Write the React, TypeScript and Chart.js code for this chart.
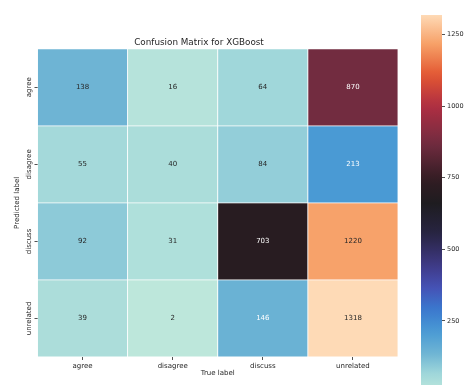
import React, { useEffect, useRef } from "react";
import { Chart, registerables } from "chart.js";

Chart.register(...registerables);

// Confusion matrix: rows are predicted labels, columns are true labels
const trueLabels = ["agree", "disagree", "discuss", "unrelated"];
const predictedLabels = ["agree", "disagree", "discuss", "unrelated"];
const rowAgree = [138, 16, 64, 870];
const rowDisagree = [55, 40, 84, 213];
const rowDiscuss = [92, 31, 703, 1220];
const rowUnrelated = [39, 2, 146, 1318];
const matrixRows = [rowAgree, rowDisagree, rowDiscuss, rowUnrelated];
const colorbarTicks = [250, 500, 750, 1000, 1250];
const chartTitle = "Confusion Matrix for XGBoost";
const xTitle = "True label";
const yTitle = "Predicted label";

const allValues = matrixRows.flat();
const vmin = Math.min(...allValues);
const vmax = Math.max(...allValues);

// "icefire"-style diverging colormap stops
const ICEFIRE: [number, [number, number, number]][] = [
  [0.0, [189, 231, 219]],
  [0.05, [158, 214, 218]],
  [0.1, [112, 182, 212]],
  [0.16, [74, 154, 212]],
  [0.22, [58, 120, 206]],
  [0.28, [70, 80, 180]],
  [0.34, [62, 56, 130]],
  [0.42, [40, 36, 66]],
  [0.5, [30, 28, 32]],
  [0.56, [48, 28, 34]],
  [0.66, [114, 44, 64]],
  [0.76, [176, 46, 66]],
  [0.84, [226, 86, 50]],
  [0.92, [246, 158, 100]],
  [1.0, [254, 218, 182]],
];

function cmapRGB(t: number): [number, number, number] {
  const c = Math.max(0, Math.min(1, t));
  for (let i = 1; i < ICEFIRE.length; i++) {
    const [t1, c1] = ICEFIRE[i];
    const [t0, c0] = ICEFIRE[i - 1];
    if (c <= t1) {
      const f = (c - t0) / (t1 - t0);
      return [0, 1, 2].map((k) => c0[k] + (c1[k] - c0[k]) * f) as [number, number, number];
    }
  }
  return ICEFIRE[ICEFIRE.length - 1][1];
}

function rgbString(rgb: [number, number, number]) {
  return `rgb(${rgb.map((v) => Math.round(v)).join(",")})`;
}

function colorFor(v: number) {
  return rgbString(cmapRGB((v - vmin) / (vmax - vmin)));
}

function textColorFor(v: number) {
  const rgb = cmapRGB((v - vmin) / (vmax - vmin));
  const lin = rgb.map((c) => {
    const s = c / 255;
    return s <= 0.03928 ? s / 12.92 : Math.pow((s + 0.055) / 1.055, 2.4);
  });
  const lum = 0.2126 * lin[0] + 0.7152 * lin[1] + 0.0722 * lin[2];
  return lum > 0.4 ? "#262626" : "#ffffff";
}

const TEXT = "#262626";
const FONT = '"DejaVu Sans", sans-serif';

// Writes each cell's count in the middle of its rectangle
const cellLabels = {
  id: "cellLabels",
  afterDatasetsDraw(chart: any) {
    const ctx = chart.ctx;
    ctx.save();
    ctx.font = `7px ${FONT}`;
    ctx.textAlign = "center";
    ctx.textBaseline = "middle";
    matrixRows.forEach((row, r) => {
      const meta = chart.getDatasetMeta(r);
      meta.data.forEach((bar: any, c: number) => {
        const v = row[c];
        const p = bar.getCenterPoint();
        ctx.fillStyle = textColorFor(v);
        ctx.fillText(String(v), p.x, p.y);
      });
    });
    ctx.restore();
  },
};

export default function App() {
  const heatRef = useRef<HTMLCanvasElement>(null);
  const barRef = useRef<HTMLCanvasElement>(null);

  useEffect(() => {
    Chart.defaults.font.family = FONT;
    Chart.defaults.color = TEXT;

    const tickGrid = {
      display: true,
      drawOnChartArea: false,
      drawTicks: true,
      tickLength: 3,
      offset: false,
      color: TEXT,
      lineWidth: 0.8,
    };

    const heat = new Chart(heatRef.current!, {
      type: "bar",
      data: {
        labels: trueLabels,
        datasets: matrixRows.map((row, r) => ({
          label: predictedLabels[r],
          data: row.map(() => [r, r + 1]),
          backgroundColor: row.map((v) => colorFor(v)),
          borderColor: "#ffffff",
          borderWidth: 0.75,
          borderSkipped: false,
          grouped: false,
          barPercentage: 1,
          categoryPercentage: 1,
        })),
      } as any,
      options: {
        responsive: false,
        animation: false,
        layout: { padding: { left: 0, right: 12, top: 0, bottom: 0 } },
        plugins: {
          legend: { display: false },
          tooltip: { enabled: false },
          title: {
            display: true,
            text: chartTitle,
            color: TEXT,
            font: { size: 8.8, weight: "normal" as any, family: FONT },
            padding: { top: 37.7, bottom: 0.5 },
          },
        },
        scales: {
          x: {
            type: "category",
            offset: true,
            grid: tickGrid as any,
            border: { display: false },
            ticks: { font: { size: 7 }, color: TEXT, padding: 2, maxRotation: 0, autoSkip: false },
            title: {
              display: true,
              text: xTitle,
              color: TEXT,
              font: { size: 7 },
              padding: { top: 0, bottom: 7.8 },
            },
            afterFit: (s: any) => {
              s.width;
              s.height = 28;
            },
          },
          y: {
            type: "linear",
            min: 0,
            max: predictedLabels.length,
            reverse: true,
            grid: tickGrid as any,
            border: { display: false },
            afterBuildTicks: (s: any) => {
              s.ticks = predictedLabels.map((_, i) => ({ value: i + 0.5 }));
            },
            ticks: {
              font: { size: 7 },
              color: TEXT,
              padding: -12,
              crossAlign: "center",
              minRotation: 90,
              maxRotation: 90,
              callback: (v: any) => predictedLabels[Math.floor(Number(v))],
            },
            title: {
              display: true,
              text: yTitle,
              color: TEXT,
              font: { size: 7 },
              padding: { top: 12.8, bottom: 0 },
            },
            afterFit: (s: any) => {
              s.width = 37.5;
            },
          },
        },
      },
      plugins: [cellLabels],
    });

    const bar = new Chart(barRef.current!, {
      type: "bar",
      data: {
        labels: ["scale"],
        datasets: [
          {
            data: [[vmin, vmax]],
            backgroundColor: (ctx: any) => {
              const chart = ctx.chart;
              const ys = chart.scales.y;
              if (!chart.chartArea || !ys) return colorFor(vmax);
              const g = chart.ctx.createLinearGradient(0, ys.getPixelForValue(vmin), 0, ys.getPixelForValue(vmax));
              for (let i = 0; i <= 40; i++) {
                const t = i / 40;
                g.addColorStop(t, rgbString(cmapRGB(t)));
              }
              return g;
            },
            borderWidth: 0,
            barPercentage: 1,
            categoryPercentage: 1,
          },
        ],
      } as any,
      options: {
        responsive: false,
        animation: false,
        layout: { padding: { left: 11, right: 0, top: 15, bottom: 8 } },
        plugins: { legend: { display: false }, tooltip: { enabled: false }, title: { display: false } },
        scales: {
          x: { display: false, offset: true },
          y: {
            type: "linear",
            position: "right",
            min: vmin,
            max: vmax,
            grid: { ...tickGrid } as any,
            border: { display: false },
            afterBuildTicks: (s: any) => {
              s.ticks = colorbarTicks.map((v) => ({ value: v }));
            },
            ticks: {
              font: { size: 6.5 },
              color: TEXT,
              padding: 2,
              callback: (v: any) => String(v),
            },
            afterFit: (s: any) => {
              s.width = 29;
            },
          },
        },
      },
    });

    return () => {
      heat.destroy();
      bar.destroy();
    };
  }, []);

  return (
    <div
      style={{
        position: "fixed",
        left: 0,
        top: 0,
        width: 471,
        height: 385,
        overflow: "hidden",
        background: "#ffffff",
      }}
    >
      <canvas
        ref={heatRef}
        width={410}
        height={385}
        style={{ position: "absolute", left: 0, top: 0, width: 410, height: 385 }}
      />
      <canvas
        ref={barRef}
        width={61}
        height={400}
        style={{ position: "absolute", left: 410, top: 0, width: 61, height: 400 }}
      />
    </div>
  );
}
